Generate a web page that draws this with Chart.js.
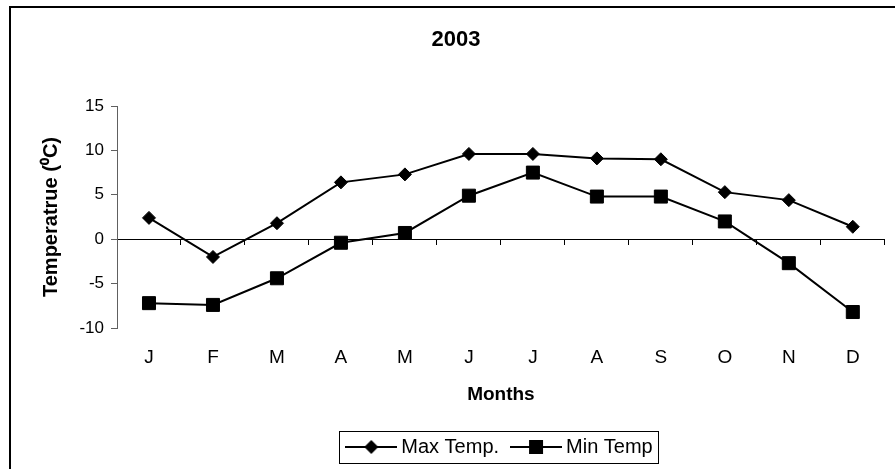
<!DOCTYPE html>
<html>
<head>
<meta charset="utf-8">
<script src="https://cdn.jsdelivr.net/npm/chart.js@4.4.1/dist/chart.umd.min.js"></script>
<style>
  html, body { margin: 0; padding: 0; background: #fff; overflow: hidden; }
  #wrap { position: relative; width: 895px; height: 469px; overflow: hidden; }
  #frame { position: absolute; left: 9px; top: 6px; width: 910px; height: 490px; border: 2px solid #000; box-sizing: border-box; }
  #tempChart { position: absolute; left: 0; top: 0; }
</style>
</head>
<body>
<div id="wrap">
  <div id="frame"></div>
  <canvas id="tempChart" width="895" height="469"></canvas>
</div>
<script>
// data
const months = ['J', 'F', 'M', 'A', 'M', 'J', 'J', 'A', 'S', 'O', 'N', 'D'];
const maxTemp = [2.4, -2.0, 1.8, 6.4, 7.3, 9.6, 9.6, 9.1, 9.0, 5.3, 4.4, 1.4];
const minTemp = [-7.2, -7.4, -4.4, -0.4, 0.7, 4.9, 7.5, 4.8, 4.8, 2.0, -2.7, -8.2];
const yMin = -10, yMax = 15, yStep = 5;

const FONT = "'Liberation Sans', Arial, sans-serif";
const legendShift = 46;

// little line+marker pictures for the legend
function legendIcon(style, r) {
    const c = document.createElement('canvas');
    c.width = 52; c.height = 18;
    const g = c.getContext('2d');
    g.strokeStyle = '#000';
    g.lineWidth = 2;
    g.beginPath(); g.moveTo(0, 9); g.lineTo(52, 9); g.stroke();
    g.fillStyle = '#000';
    g.beginPath();
    if (style === 'diamond') {
        g.moveTo(26, 9 - r); g.lineTo(26 + r, 9); g.lineTo(26, 9 + r); g.lineTo(26 - r, 9);
    } else {
        g.rect(26 - r, 9 - r, 2 * r, 2 * r);
    }
    g.closePath();
    g.fill();
    return c;
}
const icons = [legendIcon('diamond', 7), legendIcon('square', 7)];

const legendFrame = {
    id: 'legendFrame',
    afterLayout(chart) {
        chart.legend.left += legendShift;
        chart.legend.right += legendShift;
    },
    afterDraw(chart) {
        const boxes = chart.legend.legendHitBoxes;
        if (!boxes || !boxes.length) return;
        const first = boxes[0], last = boxes[boxes.length - 1];
        const ctx = chart.ctx;
        ctx.save();
        ctx.strokeStyle = '#000';
        ctx.lineWidth = 1;
        const x0 = Math.round(first.left - 12) + 0.5;
        const x1 = Math.round(last.left + last.width + 5) + 0.5;
        const y0 = Math.round(first.top - 6) + 0.5;
        const y1 = Math.round(first.top + first.height + 6) + 0.5;
        ctx.strokeRect(x0, y0, x1 - x0, y1 - y0);
        ctx.restore();
    }
};

new Chart(document.getElementById('tempChart'), {
    type: 'line',
    data: {
        labels: months,
        datasets: [{
            label: 'Max Temp.',
            data: maxTemp,
            borderColor: '#000',
            borderWidth: 2,
            backgroundColor: '#000',
            pointStyle: 'rectRot',
            pointRadius: 6.5,
            pointBorderWidth: 1,
            pointBackgroundColor: '#000',
            pointBorderColor: '#000',
            tension: 0
        }, {
            label: 'Min Temp',
            data: minTemp,
            borderColor: '#000',
            borderWidth: 2,
            backgroundColor: '#000',
            pointStyle: 'rect',
            pointRadius: 9.2,
            pointBorderWidth: 1,
            pointBackgroundColor: '#000',
            pointBorderColor: '#000',
            tension: 0
        }]
    },
    options: {
        responsive: false,
        animation: false,
        layout: { padding: { left: 27, right: 10, top: 0, bottom: 2 } },
        plugins: {
            tooltip: { enabled: false },
            title: {
                display: true,
                text: '2003',
                color: '#000',
                font: { family: FONT, size: 22, weight: 'bold', lineHeight: 1.2 },
                padding: { top: 26.3, bottom: 53.3 }
            },
            legend: {
                position: 'bottom',
                labels: {
                    color: '#000',
                    font: { family: FONT, size: 20 },
                    usePointStyle: true,
                    pointStyleWidth: 40,
                    padding: 17,
                    generateLabels(chart) {
                        const items = Chart.defaults.plugins.legend.labels.generateLabels(chart);
                        items.forEach((it, i) => { it.pointStyle = icons[i]; });
                        return items;
                    }
                }
            }
        },
        scales: {
            x: {
                offset: true,
                grid: { display: false, drawTicks: false },
                border: { display: false },
                ticks: {
                    color: '#000',
                    font: { family: FONT, size: 19 },
                    padding: 18,
                    autoSkip: false,
                    maxRotation: 0
                },
                title: {
                    display: true,
                    text: 'Months',
                    color: '#000',
                    font: { family: FONT, size: 19, weight: 'bold', lineHeight: 1.2 },
                    padding: { top: 0, bottom: 13.5 }
                },
                afterFit(scale) { scale.height = 92; }
            },
            x2: {
                type: 'category',
                axis: 'x',
                labels: months,
                position: { y: 0 },
                offset: true,
                ticks: { display: false },
                grid: { drawOnChartArea: false, offset: true, tickLength: 5, color: '#000' },
                border: { color: '#000', width: 1 }
            },
            y: {
                min: yMin,
                max: yMax,
                ticks: {
                    stepSize: yStep,
                    color: '#000',
                    font: { family: FONT, size: 17 },
                    padding: 7
                },
                grid: { drawOnChartArea: false, tickLength: 6, color: '#606060' },
                border: { color: '#606060', width: 1 },
                title: {
                    display: true,
                    text: 'Temperatrue (\u2070C)',
                    color: '#000',
                    font: { family: FONT, size: 20, weight: 'bold', lineHeight: 1.2 },
                    padding: { top: 12, bottom: 0 }
                },
                afterFit(scale) { scale.width = 90; }
            }
        }
    },
    plugins: [legendFrame]
});
</script>
</body>
</html>
